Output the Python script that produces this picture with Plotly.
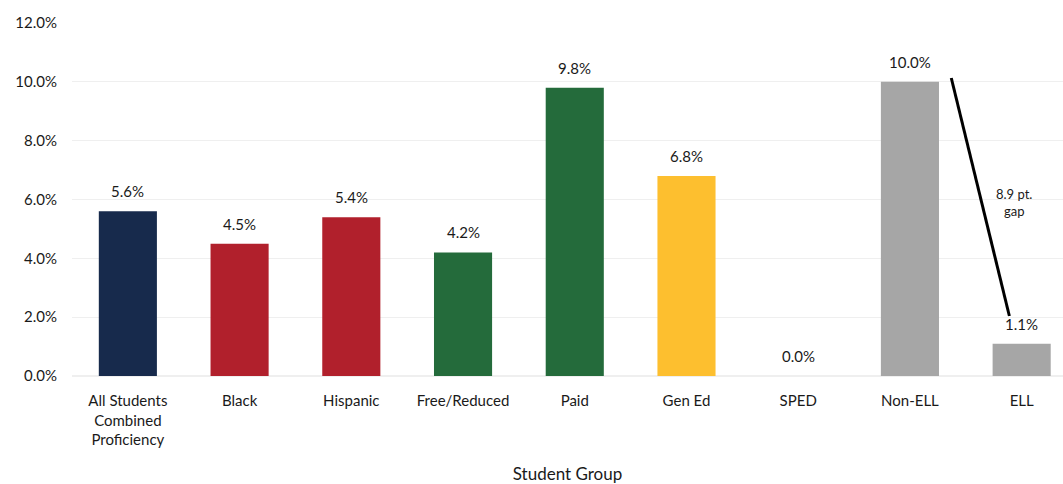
import plotly.graph_objects as go

categories = ["All Students<br>Combined<br>Proficiency", "Black", "Hispanic", "Free/Reduced",
              "Paid", "Gen Ed", "SPED", "Non-ELL", "ELL"]
values = [5.6, 4.5, 5.4, 4.2, 9.8, 6.8, 0.0, 10.0, 1.1]
colors = ["#172A4C", "#B1202C", "#B1202C", "#246B3B", "#246B3B", "#FDBF2F", "#FDBF2F", "#A6A6A6", "#A6A6A6"]
y_ticks = [0, 2, 4, 6, 8, 10, 12]
y_tick_labels = ["0.0%", "2.0%", "4.0%", "6.0%", "8.0%", "10.0%", "12.0%"]
gap_label = "8.9 pt.<br>gap"

font_family = "Lato, 'Open Sans', sans-serif"
text_color = "#1a1a1a"

xs = list(range(len(categories)))
fig = go.Figure(go.Bar(
    x=xs,
    y=values,
    marker=dict(color=colors, line=dict(width=0)),
    width=0.52,
    cliponaxis=False,
))

for x, v in zip(xs, values):
    fig.add_annotation(x=x, y=v, xref="x", yref="y", text=f"{v:.1f}%", showarrow=False,
                       yanchor="bottom", yshift=9,
                       font=dict(family=font_family, size=15, color=text_color))

fig.add_shape(type="line", xref="x", yref="y", x0=7.37, y0=10.13, x1=7.89, y1=2.04,
              line=dict(color="black", width=3))
fig.add_annotation(x=7.93, y=5.9, xref="x", yref="y", text=gap_label, showarrow=False,
                   font=dict(family=font_family, size=13, color=text_color), align="center")

fig.update_layout(
    width=1063, height=484,
    margin=dict(l=72, r=0, t=23, b=108),
    paper_bgcolor="white", plot_bgcolor="white",
    showlegend=False,
    font=dict(family=font_family, color=text_color),
    xaxis=dict(
        tickmode="array", tickvals=xs, ticktext=categories,
        range=[-0.5, 8.37], showgrid=False, zeroline=False, showline=False,
        tickfont=dict(size=15, family=font_family, color=text_color), ticks="", ticklen=0,
        ticklabelstandoff=14,
        title=dict(text="Student Group", font=dict(size=17, family=font_family, color=text_color), standoff=22),
    ),
    yaxis=dict(
        range=[0, 12], tickvals=y_ticks, ticktext=y_tick_labels,
        showgrid=True, gridcolor="#EFEFEF", gridwidth=1, zeroline=True, zerolinecolor="#EFEFEF",
        tickfont=dict(size=15, family=font_family, color=text_color), ticks="", ticklabelstandoff=14,
    ),
)

fig.write_html("out.html")
